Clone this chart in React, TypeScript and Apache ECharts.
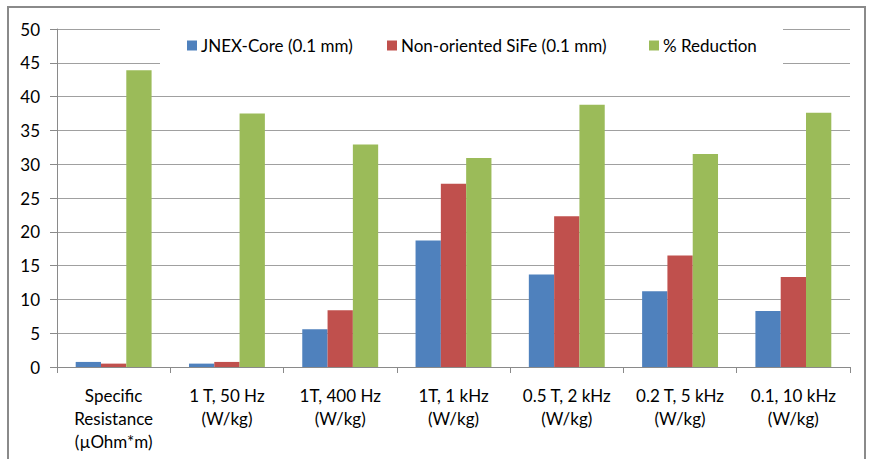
import React, { useEffect, useRef } from "react";
import * as echarts from "echarts";

const categories = [
  "Specific\nResistance\n(µOhm*m)",
  "1 T, 50 Hz\n(W/kg)",
  "1T, 400 Hz\n(W/kg)",
  "1T, 1 kHz\n(W/kg)",
  "0.5 T, 2 kHz\n(W/kg)",
  "0.2 T, 5 kHz\n(W/kg)",
  "0.1, 10 kHz\n(W/kg)",
];
const seriesNames = ["JNEX-Core (0.1 mm)", "Non-oriented SiFe (0.1 mm)", "% Reduction"];
const jnexCore = [0.75, 0.5, 5.6, 18.7, 13.7, 11.2, 8.3];
const nonOrientedSiFe = [0.5, 0.75, 8.4, 27.1, 22.3, 16.5, 13.3];
const reduction = [43.9, 37.5, 32.9, 30.9, 38.8, 31.5, 37.6];
const yTicks = { min: 0, max: 50, interval: 5 };

const colors = ["#4F81BD", "#C0504D", "#9BBB59"];
const legendLefts = [187, 387, 649];
const FONT = "Lato, 'Noto Sans', sans-serif";

export default function App() {
  const ref = useRef<HTMLDivElement>(null);
  useEffect(() => {
    if (!ref.current) return;
    const chart = echarts.init(ref.current, undefined, { renderer: "svg" });
    const values = [jnexCore, nonOrientedSiFe, reduction];
    chart.setOption({
      animation: false,
      backgroundColor: "#ffffff",
      textStyle: { fontFamily: FONT, color: "#000" },
      graphic: [
        {
          type: "rect",
          shape: { x: 8, y: 7, width: 857, height: 470 },
          style: { fill: "none", stroke: "#8a8a8a", lineWidth: 2 },
          z: 0,
        },
        {
          type: "rect",
          shape: { x: 160, y: 25, width: 623, height: 43 },
          style: { fill: "#ffffff" },
          z: 1,
        },
      ],
      grid: { left: 57, right: 25, top: 29, bottom: 92, containLabel: false },
      legend: seriesNames.map((name, i) => ({
        data: [name],
        left: legendLefts[i],
        top: 37,
        padding: 0,
        itemWidth: 10,
        itemHeight: 10,
        icon: "rect",
        textStyle: { fontFamily: FONT, fontSize: 17, color: "#000", padding: [0, 0, 0, -1] },
        z: 10,
      })),
      xAxis: {
        type: "category",
        data: categories,
        axisLine: { lineStyle: { color: "#8a8a8a", width: 1 } },
        axisTick: { show: true, length: 6, lineStyle: { color: "#8a8a8a" } },
        axisLabel: {
          fontFamily: FONT,
          fontSize: 17,
          color: "#000",
          lineHeight: 23,
          margin: 17,
          interval: 0,
        },
      },
      yAxis: {
        type: "value",
        min: yTicks.min,
        max: yTicks.max,
        interval: yTicks.interval,
        axisLine: { show: true, lineStyle: { color: "#8a8a8a", width: 1 } },
        axisTick: { show: true, length: 7, lineStyle: { color: "#8a8a8a" } },
        splitLine: { lineStyle: { color: "#a0a0a0", width: 1 } },
        axisLabel: { fontFamily: FONT, fontSize: 17, color: "#000", margin: 17 },
      },
      series: seriesNames.map((name, i) => ({
        name,
        type: "bar",
        data: values[i],
        barGap: "0%",
        barCategoryGap: "33%",
        itemStyle: { color: colors[i] },
      })),
    });
    return () => chart.dispose();
  }, []);
  return (
    <div
      ref={ref}
      style={{ position: "absolute", left: 0, top: 0, width: 875, height: 459 }}
    />
  );
}
